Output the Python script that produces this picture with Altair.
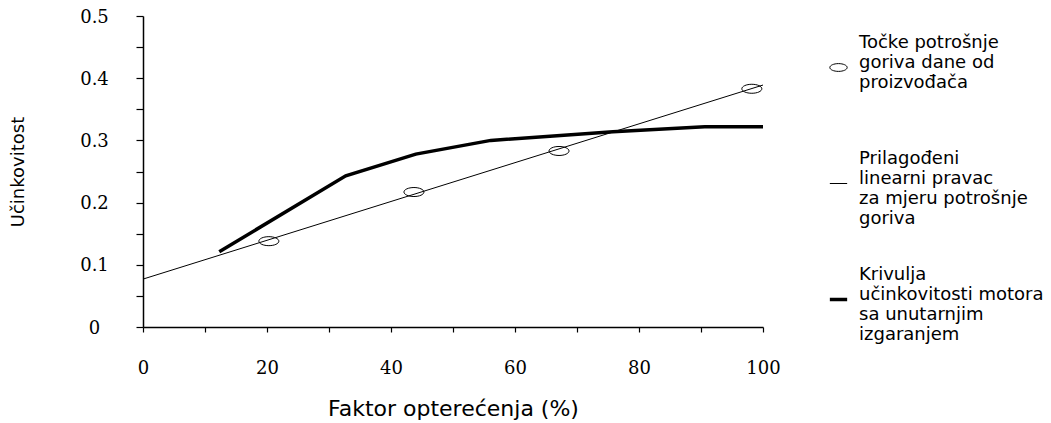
import altair as alt
import pandas as pd

# --- data ---
series_names = [
    "Točke potrošnje\ngoriva dane od\nproizvođača",
    "Prilagođeni\nlinearni pravac\nza mjeru potrošnje\ngoriva",
    "Krivulja\nučinkovitosti motora\nsa unutarnjim\nizgaranjem",
]
point_x = [20.3, 43.7, 67.1, 98.2]
point_y = [0.138, 0.217, 0.283, 0.383]
fit_x = [0, 100]
fit_y = [0.077, 0.389]
curve_x = [12.3, 32.7, 44.0, 56.1, 75.8, 90.6, 100]
curve_y = [0.121, 0.243, 0.278, 0.300, 0.314, 0.322, 0.322]
x_tick_values = [0, 10, 20, 30, 40, 50, 60, 70, 80, 90, 100]
y_tick_values = [0, 0.05, 0.1, 0.15, 0.2, 0.25, 0.3, 0.35, 0.4, 0.45, 0.5]

pts = pd.DataFrame({"x": point_x, "y": point_y, "series": series_names[0]})
lines = pd.concat([
    pd.DataFrame({"x": fit_x, "y": fit_y, "series": series_names[1]}),
    pd.DataFrame({"x": curve_x, "y": curve_y, "series": series_names[2]}),
])

ellipse = "M-1,0A1,0.45,0,1,0,1,0A1,0.45,0,1,0,-1,0Z"

LABEL_DY = -25  # lifts multi-line legend labels so the symbol sits mid-block

legend = alt.Legend(
    title=None,
    orient="none",
    legendX=685,
    legendY=42,
    padding=0,
    labelExpr="split(datum.index === 0 ? datum.label + '\\n ' : datum.label, '\\n')",
    labelFont="DejaVu Sans",
    labelFontSize=18,
    labelLimit=400,
    labelOffset=10,
    labelColor="black",
    rowPadding=37,
    symbolSize=300,
    symbolStrokeColor="black",
    symbolFillColor="transparent",
)

shape_scale = alt.Scale(type="ordinal", domain=series_names, range=[ellipse, "stroke", "stroke"])
sw_scale = alt.Scale(type="ordinal", domain=series_names, range=[1, 1, 3.5])

x_enc = alt.X(
    "x:Q",
    scale=alt.Scale(domain=[0, 100], nice=False),
    axis=alt.Axis(
        values=x_tick_values,
        labelExpr="datum.value % 20 === 0 ? datum.label : ''",
        title="Faktor opterećenja (%)",
        grid=False,
        tickSize=5,
        labelFlush=False,
        labelPadding=27 - LABEL_DY,
        titlePadding=21,
        labelFont="DejaVu Serif",
        labelFontSize=18,
        labelFontWeight="normal",
        titleFont="DejaVu Sans",
        titleFontSize=22,
        titleFontWeight="normal",
        labelColor="black",
        titleColor="black",
        domainColor="black",
        tickColor="black",
        domainWidth=1.5,
        tickWidth=1.2,
    ),
)
y_enc = alt.Y(
    "y:Q",
    scale=alt.Scale(domain=[0, 0.5], nice=False),
    axis=alt.Axis(
        values=y_tick_values,
        labelExpr="abs(round(datum.value * 20)) % 2 === 0 ? (datum.value === 0 ? '0' : format(datum.value, '.1f')) : ''",
        title="Učinkovitost",
        grid=False,
        tickSize=7,
        labelFlush=False,
        labelAlign="center",
        labelPadding=42,
        labelOffset=1 - LABEL_DY,
        titlePadding=52,
        labelFont="DejaVu Serif",
        labelFontSize=18,
        labelFontWeight="normal",
        titleFont="DejaVu Sans",
        titleFontSize=18,
        titleFontWeight="normal",
        labelColor="black",
        titleColor="black",
        domainColor="black",
        tickColor="black",
        domainWidth=1.5,
        tickWidth=1.2,
    ),
)

line_layer = alt.Chart(lines).mark_line(color="black").encode(
    x=x_enc,
    y=y_enc,
    detail="series:N",
    strokeWidth=alt.StrokeWidth("series:N", scale=sw_scale, legend=legend),
)

point_layer = alt.Chart(pts).mark_point(filled=False, color="black", size=400, opacity=1).encode(
    x=x_enc,
    y=y_enc,
    shape=alt.Shape("series:N", scale=shape_scale, legend=legend),
    strokeWidth=alt.StrokeWidth("series:N", scale=sw_scale, legend=legend),
)

chart = alt.layer(line_layer, point_layer).properties(
    width=620,
    height=311,
    autosize=alt.AutoSizeParams(type="none"),
    padding={"left": 135, "top": 8, "right": 280, "bottom": 100},
    background="white",
).configure(
    style={"guide-label": {"lineHeight": 20, "dy": LABEL_DY}}
).configure_view(stroke=None)

chart.save("out.html", embed_options={"renderer": "svg", "actions": False})
